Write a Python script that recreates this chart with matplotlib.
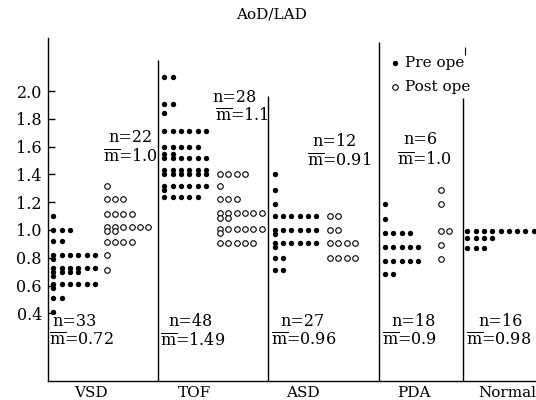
import matplotlib
matplotlib.use("Agg")
import matplotlib.pyplot as plt

plt.rcParams['font.family'] = ['DejaVu Serif']
plt.rcParams['mathtext.fontset'] = 'dejavuserif'

# rows of (value, number of dots)
vsd_pre = [(1.1, 1), (1.0, 3), (0.92, 2), (0.82, 6), (0.79, 1), (0.73, 6), (0.70, 4),
           (0.67, 1), (0.61, 6), (0.58, 1), (0.51, 2), (0.41, 1)]
vsd_post = [(1.32, 1), (1.22, 3), (1.115, 4), (1.025, 6), (0.99, 2), (0.915, 4),
            (0.82, 1), (0.71, 1)]
tof_pre = [(2.10, 2), (1.91, 2), (1.84, 1), (1.71, 6), (1.60, 5), (1.55, 2), (1.52, 6),
           (1.435, 6), (1.40, 6), (1.32, 6), (1.29, 1), (1.24, 5)]
tof_post = [(1.40, 4), (1.32, 1), (1.22, 3), (1.12, 6), (1.085, 2), (1.01, 6),
            (0.975, 1), (0.91, 5)]
asd_pre = [(1.40, 1), (1.29, 1), (1.19, 1), (1.10, 6), (1.00, 6), (0.97, 1),
           (0.91, 6), (0.88, 1), (0.80, 2), (0.71, 2)]
asd_post = [(1.10, 2), (1.00, 2), (0.91, 4), (0.80, 4)]
pda_pre = [(1.19, 1), (1.08, 1), (0.98, 4), (0.88, 5), (0.78, 5), (0.68, 2)]
pda_post = [(1.29, 1), (1.19, 1), (0.99, 2), (0.89, 1), (0.79, 1)]
normal_pre = [(0.99, 9), (0.945, 4), (0.87, 3)]

groups = ["VSD", "TOF", "ASD", "PDA", "Normal"]
n_bottom = ["33", "48", "27", "18", "16"]
m_bottom = ["0.72", "1.49", "0.96", "0.9", "0.98"]
n_top = ["22", "28", "12", "6"]
m_top = ["1.0", "1.1", "0.91", "1.0"]
yticks = [0.4, 0.6, 0.8, 1.0, 1.2, 1.4, 1.6, 1.8, 2.0]

W, H = 536, 400


def val(py):
    # pixel row -> value on the y scale
    return 1 + (230 - py) / 139.0


fig = plt.figure(figsize=(W / 100, H / 100), dpi=100)
ax = fig.add_axes([47.5 / W, (H - 381) / H, (W - 47.5) / W, 343 / H])
ax.set_xlim(47.5, W)
ax.set_ylim(val(381), val(38))

for s in ["top", "right"]:
    ax.spines[s].set_visible(False)
ax.spines["left"].set_linewidth(1.0)
ax.spines["bottom"].set_linewidth(1.0)
ax.set_xticks([])
ax.set_yticks(yticks)
ax.set_yticklabels(["%.1f" % t for t in yticks], fontsize=11.5)
ax.tick_params(axis="y", direction="in", length=5, width=1, pad=4)

step = 8.3


def draw(rows, x0, filled):
    xs, ys = [], []
    for v, c in rows:
        for i in range(c):
            xs.append(x0 + i * step)
            ys.append(v)
    if filled:
        ax.scatter(xs, ys, s=15, c="black", linewidths=0, clip_on=False)
    else:
        ax.scatter(xs, ys, s=16, facecolors="white", edgecolors="black",
                   linewidths=0.8, clip_on=False)


draw(vsd_pre, 53.3, True)
draw(vsd_post, 106.7, False)
draw(tof_pre, 164.3, True)
draw(tof_post, 220, False)
draw(asd_pre, 274.7, True)
draw(asd_post, 330, False)
draw(pda_pre, 385, True)
draw(pda_post, 440.7, False)
draw(normal_pre, 467.3, True)

# separators between groups
seps = [(158, 60), (268, 96), (379, 42), (462.5, 98)]
for x, top in seps:
    ax.vlines(x, val(381), val(top), color="black", lw=1.0)
ax.vlines(465, val(55), val(47), color="black", lw=0.8)


def ft(px, py, s, ha="left", size=11.5):
    fig.text(px / W, 1 - py / H, s, ha=ha, va="center", fontsize=size)


ft(272, 14, "AoD/LAD", ha="center", size=11)

top_n_x = [108, 212, 312, 403]
top_m_x = [103, 215, 307, 397]
top_n_y = [138, 97, 142, 140]
top_m_y = [157, 116, 161, 160]
for i in range(4):
    ft(top_n_x[i], top_n_y[i], "n=" + n_top[i])
    ft(top_m_x[i], top_m_y[i], r"$\overline{\mathrm{m}}$=" + m_top[i])

bot_n_x = [52, 168, 280, 391, 478]
bot_m_x = [49, 160, 271, 382, 466]
cat_x = [91, 195, 303, 414, 507]
for i in range(5):
    ft(bot_n_x[i], 322, "n=" + n_bottom[i])
    ft(bot_m_x[i], 341, r"$\overline{\mathrm{m}}$=" + m_bottom[i])
    ft(cat_x[i], 393, groups[i], ha="center", size=11)

# legend
ax.scatter([395], [val(63)], s=15, c="black", linewidths=0, clip_on=False)
ax.scatter([395], [val(87)], s=16, facecolors="white", edgecolors="black",
           linewidths=0.8, clip_on=False)
ft(405, 63, "Pre ope", size=11)
ft(405, 87, "Post ope", size=11)

fig.savefig("out.png", dpi=100)
